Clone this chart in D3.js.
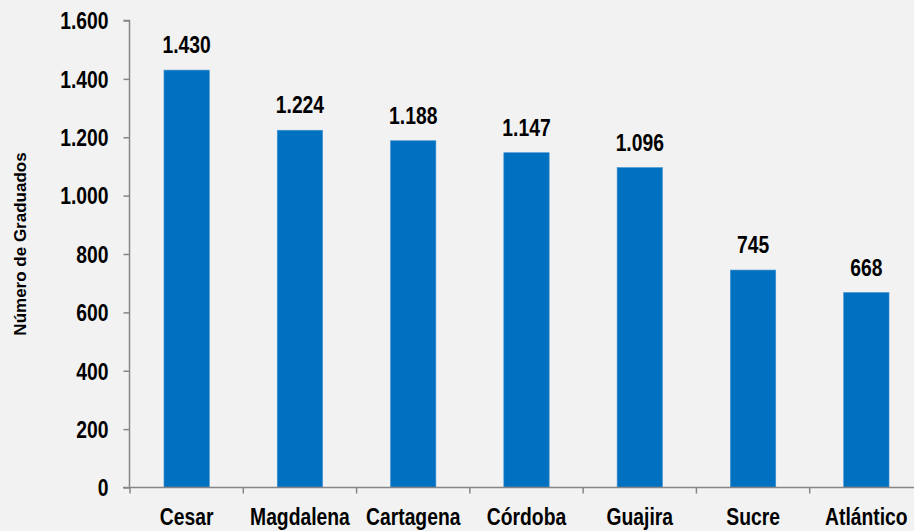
<!DOCTYPE html>
<html lang="es">
<head>
  <meta charset="UTF-8">
  <title>Número de Graduados</title>
  <style>
    body { margin: 0; background: #f2f2f2; }
    svg { display: block; }
    text { font-family: "Liberation Sans", Arial, sans-serif; font-weight: bold; fill: #000; }
  </style>
</head>
<body>
  <svg width="914" height="531"></svg>
  <script src="https://d3js.org/d3.v7.min.js"></script>
  <script>
    // datos del gráfico
    const departamentos = ["Cesar", "Magdalena", "Cartagena", "Córdoba", "Guajira", "Sucre", "Atlántico"];
    const graduados = [1430, 1224, 1188, 1147, 1096, 745, 668];
    const yTicks = [0, 200, 400, 600, 800, 1000, 1200, 1400, 1600];

    const svg = d3.select("svg");
    const fmt = d3.formatLocale({ decimal: ",", thousands: ".", grouping: [3], currency: ["$", ""] }).format(",d");
    const narrow = 0.84; // letra estrecha tipo Arial Narrow

    const x = d3.scaleBand().domain(departamentos).range([130, 923]).paddingInner(0.6).paddingOuter(0.3);
    const y = d3.scaleLinear().domain([0, 1600]).range([487.5, 20.5]);

    // barras
    svg.append("g").selectAll("rect")
      .data(departamentos)
      .enter().append("rect")
      .attr("x", d => x(d))
      .attr("width", x.bandwidth())
      .attr("y", (d, i) => y(graduados[i]))
      .attr("height", (d, i) => y(0) - y(graduados[i]))
      .style("fill", "#0070c0")
      .style("stroke", "#3d8fd0")
      .style("stroke-width", 0.6);

    // etiquetas de valor
    svg.append("g").selectAll("text")
      .data(departamentos)
      .enter().append("text")
      .attr("transform", (d, i) => `translate(${x(d) + x.bandwidth() / 2},${y(graduados[i]) - 17}) scale(${narrow},1)`)
      .attr("text-anchor", "middle")
      .style("font-size", "23px")
      .text((d, i) => fmt(graduados[i]));

    // eje y
    const yAxis = svg.append("g")
      .attr("transform", "translate(129.5,0)")
      .call(d3.axisLeft(y).tickValues(yTicks).tickSize(6).tickFormat(fmt));
    yAxis.selectAll("line, path").style("stroke", "#868686").style("stroke-width", 1.5);
    yAxis.select(".domain").attr("d", `M-6,${y(1600)}H0V${y(0)}`);
    yAxis.selectAll("text")
      .attr("x", 0)
      .attr("dy", "0.36em")
      .attr("transform", `translate(-21,0) scale(${narrow},1)`)
      .style("font-size", "23px")
      .style("font-family", null);
    yAxis.attr("font-family", null).attr("font-size", null);

    // eje x con marcas entre categorías
    const xg = svg.append("g");
    xg.append("line")
      .attr("x1", 123).attr("x2", 914)
      .attr("y1", y(0)).attr("y2", y(0))
      .style("stroke", "#868686").style("stroke-width", 1.5);
    const step = x.step();
    xg.selectAll("line.tick")
      .data(departamentos)
      .enter().append("line")
      .attr("class", "tick")
      .attr("x1", (d, i) => 130 + i * step)
      .attr("x2", (d, i) => 130 + i * step)
      .attr("y1", y(0)).attr("y2", y(0) + 6)
      .style("stroke", "#868686").style("stroke-width", 1.5);
    xg.selectAll("text")
      .data(departamentos)
      .enter().append("text")
      .attr("transform", d => `translate(${x(d) + x.bandwidth() / 2},525) scale(${narrow},1)`)
      .attr("text-anchor", "middle")
      .style("font-size", "23px")
      .text(d => d);

    // título del eje
    svg.append("text")
      .attr("transform", "translate(26,244) rotate(-90)")
      .attr("text-anchor", "middle")
      .style("font-size", "17px")
      .text("Número de Graduados");
  </script>
</body>
</html>
